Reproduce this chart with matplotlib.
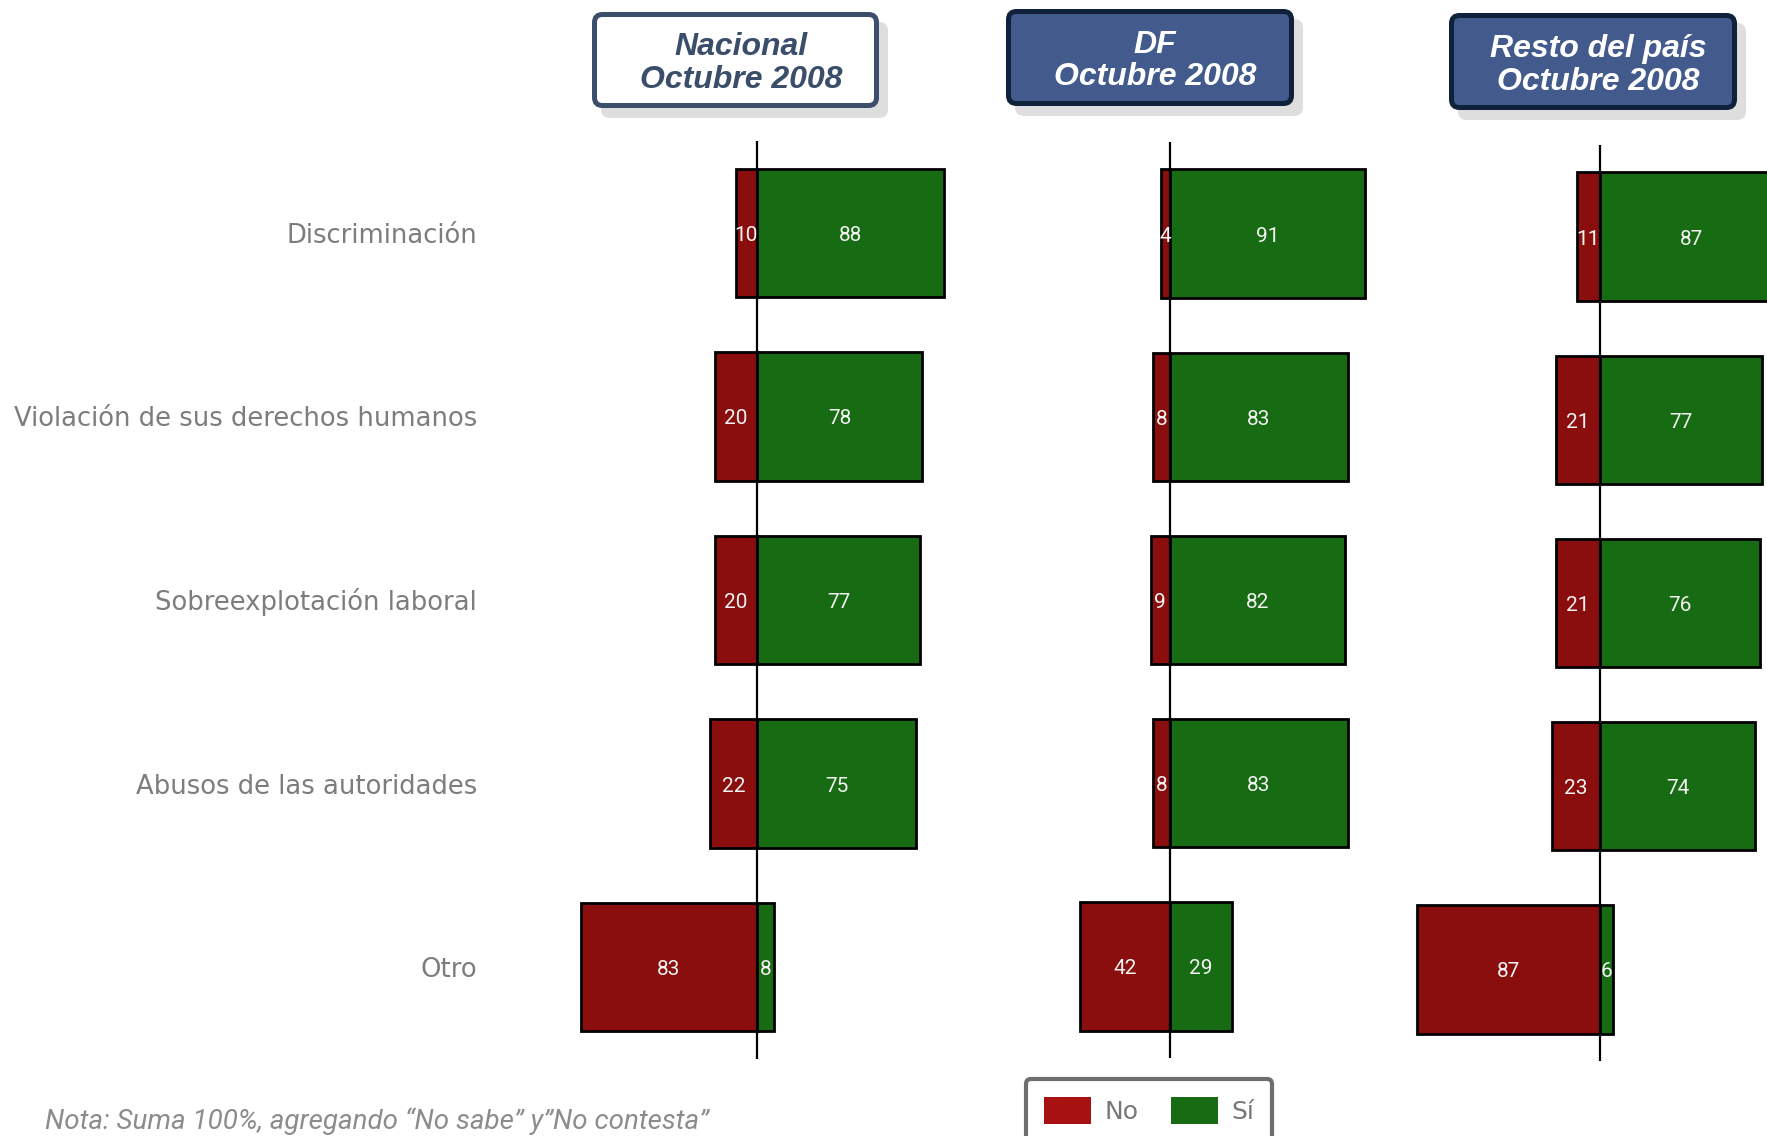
import matplotlib

matplotlib.use("Agg")
import matplotlib.pyplot as plt
from matplotlib import transforms
from matplotlib.patches import FancyBboxPatch, Patch

W, H = 1767, 1136

categories = [
    "Discriminación",
    "Violación de sus derechos humanos",
    "Sobreexplotación laboral",
    "Abusos de las autoridades",
    "Otro",
]
nacional_no = [10, 20, 20, 22, 83]
nacional_si = [88, 78, 77, 75, 8]
df_no = [4, 8, 9, 8, 42]
df_si = [91, 83, 82, 83, 29]
resto_no = [11, 21, 21, 23, 87]
resto_si = [87, 77, 76, 74, 6]
panel_titles = [("Nacional", "Octubre 2008"), ("DF", "Octubre 2008"), ("Resto del país", "Octubre 2008")]
legend_labels = ["No", "Sí"]
note = "Nota: Suma 100%, agregando “No sabe” y”No contesta”"

RED = "#8a0e0e"
GREEN = "#176b12"
LEG_RED = "#a81111"
GRAY = "#7d7d7d"

fig = plt.figure(figsize=(W / 100, H / 100), dpi=100)
fig.patch.set_facecolor("white")

# overlay axes in pixel units (y down) for headers / labels / note
ov = fig.add_axes([0, 0, 1, 1], zorder=10)
ov.set_xlim(0, W); ov.set_ylim(H, 0)
ov.axis("off")
ov.patch.set_alpha(0)


def px_axes(x0, scale, top, bottom, lim=95):
    left = x0 - lim * scale
    width = 2 * lim * scale
    return fig.add_axes([left / W, 1 - bottom / H, width / W, (bottom - top) / H])


# (zero-line x, px per unit, top, bottom) per panel
panel_geo = [(757, 2.12, 141, 1059), (1170, 2.14, 142, 1058), (1600, 2.10, 145, 1061)]
panel_data = [(nacional_no, nacional_si), (df_no, df_si), (resto_no, resto_si)]

axes = []
for (x0, s, top, bot), (no, si) in zip(panel_geo, panel_data):
    ax = px_axes(x0, s, top, bot)
    ypos = list(range(len(categories)))
    ax.barh(ypos, no, left=[-v for v in no], height=0.70, color=RED,
            edgecolor="black", linewidth=2.0, zorder=2)
    ax.barh(ypos, si, height=0.70, color=GREEN, edgecolor="black", linewidth=2.0, zorder=2)
    ax.axvline(0, color="black", linewidth=1.6, zorder=5)
    row_px = (bot - top) / len(categories)
    off = 8 / row_px  # put digit centre on the bar centre
    for y, a, b in zip(ypos, no, si):
        ax.text(-a / 2, y + off, str(a), ha="center", va="baseline", color="#f4f4f4",
                fontsize=15, family=["Roboto", "DejaVu Sans"], zorder=6)
        ax.text(b / 2, y + off, str(b), ha="center", va="baseline", color="#f4f4f4",
                fontsize=15, family=["Roboto", "DejaVu Sans"], zorder=6)
    ax.set_xlim(-95, 95)
    ax.set_ylim(len(categories) - 0.5, -0.5)
    ax.axis("off")
    axes.append(ax)

# category labels, right aligned, rows from the first panel
tr = transforms.blended_transform_factory(ov.transData, axes[0].transData)
row_px = (1059 - 141) / len(categories)
for i, cat in enumerate(categories):
    ov.text(477, i + 10 / row_px, cat, transform=tr, ha="right", va="baseline", color=GRAY,
            fontsize=18.6, family="DejaVu Sans")

# header boxes: (left, top, right, bottom), fill, edge, text colour, baselines, text centre
headers = [
    ((592, 12, 879, 108), "white", "#3b4e6b", "#3a4d6a", (55, 88), 741),
    ((1006, 9, 1294, 106), "#425b8c", "#10223a", "white", (53, 85), 1155),
    ((1449, 13, 1737, 110), "#425b8c", "#10223a", "white", (57, 90), 1598),
]
for (l, t, r, b), fc, ec, tc, (b1, b2), cx in headers:
    ov.add_patch(FancyBboxPatch((l + 9, t + 10), r - l, b - t, boxstyle="round,pad=0,rounding_size=9",
                                fc="#dedede", ec="none", zorder=1))
    ov.add_patch(FancyBboxPatch((l + 2.5, t + 2.5), r - l - 5, b - t - 5,
                                boxstyle="round,pad=0,rounding_size=8",
                                fc=fc, ec=ec, linewidth=3.6, zorder=2))
for ((l, t, r, b), fc, ec, tc, (b1, b2), cx), (line1, line2) in zip(headers, panel_titles):
    for txt, base in ((line1, b1), (line2, b2)):
        ov.text(cx, base, txt, ha="center", va="baseline", color=tc, fontsize=23,
                fontweight="bold", fontstyle="italic", family="Liberation Sans", zorder=3)

# legend
handles = [Patch(facecolor=LEG_RED, edgecolor="none", label=legend_labels[0]),
           Patch(facecolor=GREEN, edgecolor="none", label=legend_labels[1])]
leg = fig.legend(handles=handles, ncol=2, loc="upper left",
                 bbox_to_anchor=(1026 / W, 1 - 1079 / H), borderaxespad=0,
                 frameon=True, fancybox=True, framealpha=1, edgecolor="#6e6e6e",
                 fontsize=18, labelcolor="#777777", handlelength=1.88, handleheight=1.32,
                 handletextpad=0.55, columnspacing=1.3, borderpad=0.7)
leg.get_frame().set_linewidth(3)

# note at the bottom left
ov.text(45, 1129, note, ha="left", va="baseline", color="#8c8c8c", fontsize=20,
        fontstyle="italic", family=["Roboto", "DejaVu Sans"])

fig.savefig("out.png", dpi=100, facecolor="white")
